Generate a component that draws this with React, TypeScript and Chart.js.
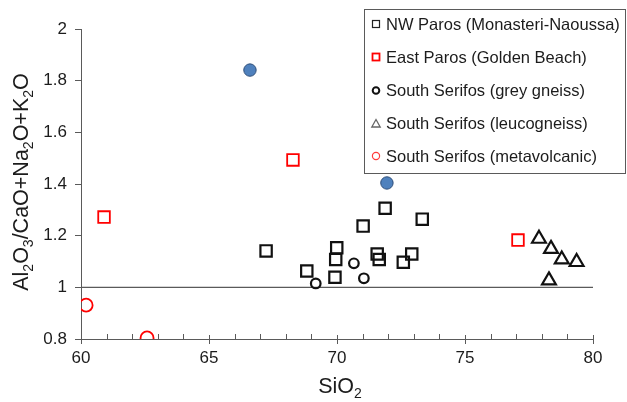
import React, { useEffect, useRef } from 'react';
import { Chart, registerables } from 'chart.js';

Chart.register(...registerables);

// ---- Data ----
const seriesNames = [
  'NW Paros (Monasteri-Naoussa)',
  'East Paros (Golden Beach)',
  'South Serifos (grey gneiss)',
  'South Serifos (leucogneiss)',
  'South Serifos (metavolcanic)',
];
const nwParosSiO2 = [67.23, 68.82, 69.99, 69.95, 69.92, 71.02, 71.88, 71.57, 71.65, 72.59, 72.92, 73.33];
const nwParosRatio = [1.141, 1.063, 1.153, 1.108, 1.039, 1.237, 1.306, 1.129, 1.108, 1.097, 1.129, 1.264];
const eastParosSiO2 = [60.9, 68.28, 77.07];
const eastParosRatio = [1.272, 1.493, 1.183];
const greyGneissSiO2 = [69.17, 70.66, 71.05];
const greyGneissRatio = [1.015, 1.093, 1.035];
const leucogneissSiO2 = [77.89, 78.36, 78.78, 79.36, 78.28];
const leucogneissRatio = [1.188, 1.149, 1.108, 1.098, 1.027];
const metavolcanicSiO2 = [60.2, 62.58];
const metavolcanicRatio = [0.931, 0.804];
const otherSiO2 = [66.6, 71.95];
const otherRatio = [1.841, 1.404];
const referenceLineSiO2 = [60, 80];
const referenceLineRatio = [1, 1];
const xMin = 60;
const xMax = 80;
const xMajorStep = 5;
const xMinorStep = 1;
const yMin = 0.8;
const yMax = 2;
const yStep = 0.2;

const FONT = '"Liberation Sans", Arial, Helvetica, sans-serif';
const AXIS_COLOR = '#5a5a5a';
const TEXT_COLOR = '#1c1c1c';

const pts = (xs: number[], ys: number[]) => xs.map((x, i) => ({ x, y: ys[i] }));

type Seg = { t: string; sub?: boolean };

function drawRich(ctx: CanvasRenderingContext2D, segs: Seg[], cx: number, baseY: number, size: number, subSize: number) {
  const widths = segs.map((s) => {
    ctx.font = `${s.sub ? subSize : size}px ${FONT}`;
    return ctx.measureText(s.t).width;
  });
  const total = widths.reduce((a, b) => a + b, 0);
  let x = cx - total / 2;
  ctx.textBaseline = 'alphabetic';
  ctx.textAlign = 'left';
  segs.forEach((s, i) => {
    ctx.font = `${s.sub ? subSize : size}px ${FONT}`;
    ctx.fillText(s.t, x, baseY + (s.sub ? size * 0.24 : 0));
    x += widths[i];
  });
}

const decorPlugin = {
  id: 'decor',
  afterDraw(chart: any) {
    const ctx: CanvasRenderingContext2D = chart.ctx;
    const xs = chart.scales.x;
    const ys = chart.scales.y;
    const area = chart.chartArea;
    ctx.save();
    // x tick marks: majors cross the axis, minors point inward
    ctx.strokeStyle = AXIS_COLOR;
    ctx.lineWidth = 1;
    for (let v = xMin; v <= xMax + 1e-9; v += xMinorStep) {
      const px = Math.round(xs.getPixelForValue(v)) + 0.5;
      const by = area.bottom;
      ctx.beginPath();
      if (Math.abs(v % xMajorStep) < 1e-9) {
        ctx.moveTo(px, by - 4);
        ctx.lineTo(px, by + 5);
      } else {
        ctx.moveTo(px, by - 5);
        ctx.lineTo(px, by);
      }
      ctx.stroke();
    }

    // axis titles
    ctx.fillStyle = TEXT_COLOR;
    drawRich(ctx, [{ t: 'SiO' }, { t: '2', sub: true }], (area.left + area.right) / 2 + 3, 393, 21.5, 14);
    ctx.save();
    ctx.translate(28, (area.top + area.bottom) / 2 - 2);
    ctx.rotate(-Math.PI / 2);
    drawRich(
      ctx,
      [
        { t: 'Al' }, { t: '2', sub: true }, { t: 'O' }, { t: '3', sub: true },
        { t: '/CaO+Na' }, { t: '2', sub: true }, { t: 'O+K' }, { t: '2', sub: true }, { t: 'O' },
      ],
      0, 0, 21.5, 14,
    );
    ctx.restore();

    // legend box
    const lx = 364.5, ly = 9.5, lw = 261, lh = 164;
    ctx.fillStyle = '#ffffff';
    ctx.fillRect(lx, ly, lw, lh);
    ctx.strokeStyle = AXIS_COLOR;
    ctx.lineWidth = 1;
    ctx.strokeRect(lx, ly, lw, lh);
    const rowY = [24, 57, 90.5, 123.5, 156];
    const mx = 376;
    rowY.forEach((yy, i) => {
      ctx.save();
      ctx.beginPath();
      if (i === 0) {
        ctx.strokeStyle = '#222';
        ctx.lineWidth = 1.2;
        ctx.strokeRect(mx - 3.5, yy - 3.5, 7, 7);
      } else if (i === 1) {
        ctx.strokeStyle = '#ff0000';
        ctx.lineWidth = 1.8;
        ctx.strokeRect(mx - 3.5, yy - 3.5, 7, 7);
      } else if (i === 2) {
        ctx.strokeStyle = '#111';
        ctx.lineWidth = 2;
        ctx.arc(mx, yy, 3.3, 0, Math.PI * 2);
        ctx.stroke();
      } else if (i === 3) {
        ctx.strokeStyle = '#666';
        ctx.lineWidth = 1.3;
        ctx.moveTo(mx, yy - 4);
        ctx.lineTo(mx + 4.2, yy + 3.5);
        ctx.lineTo(mx - 4.2, yy + 3.5);
        ctx.closePath();
        ctx.stroke();
      } else {
        ctx.strokeStyle = '#ff3b3b';
        ctx.lineWidth = 1.2;
        ctx.arc(mx, yy, 3.6, 0, Math.PI * 2);
        ctx.stroke();
      }
      ctx.restore();
      ctx.fillStyle = TEXT_COLOR;
      ctx.font = `16.5px ${FONT}`;
      ctx.textAlign = 'left';
      ctx.textBaseline = 'middle';
      ctx.fillText(seriesNames[i], 386, yy + 1);
    });
    ctx.restore();
  },
};

export default function App() {
  const canvasRef = useRef<HTMLCanvasElement | null>(null);

  useEffect(() => {
    if (!canvasRef.current) return;
    const chart = new Chart(canvasRef.current, {
      type: 'scatter',
      data: {
        datasets: [
          {
            label: seriesNames[0],
            data: pts(nwParosSiO2, nwParosRatio),
            pointStyle: 'rect',
            pointRadius: 8,
            pointBorderColor: '#111111',
            pointBorderWidth: 2.2,
            pointBackgroundColor: 'rgba(0,0,0,0)',
          },
          {
            label: seriesNames[1],
            data: pts(eastParosSiO2, eastParosRatio),
            pointStyle: 'rect',
            pointRadius: 8.2,
            pointBorderColor: '#ff0000',
            pointBorderWidth: 1.8,
            pointBackgroundColor: 'rgba(0,0,0,0)',
          },
          {
            label: seriesNames[2],
            data: pts(greyGneissSiO2, greyGneissRatio),
            pointStyle: 'circle',
            pointRadius: 4.8,
            pointBorderColor: '#111111',
            pointBorderWidth: 2.2,
            pointBackgroundColor: 'rgba(0,0,0,0)',
          },
          {
            label: seriesNames[3],
            data: pts(leucogneissSiO2, leucogneissRatio),
            pointStyle: 'triangle',
            pointRadius: 8,
            pointBorderColor: '#111111',
            pointBorderWidth: 2.2,
            pointBackgroundColor: 'rgba(0,0,0,0)',
          },
          {
            label: seriesNames[4],
            data: pts(metavolcanicSiO2, metavolcanicRatio),
            pointStyle: 'circle',
            pointRadius: 6.5,
            pointBorderColor: '#ff0000',
            pointBorderWidth: 1.8,
            pointBackgroundColor: 'rgba(0,0,0,0)',
          },
          {
            label: 'other',
            data: pts(otherSiO2, otherRatio),
            pointStyle: 'circle',
            pointRadius: 6.2,
            pointBorderColor: '#2f4f7a',
            pointBorderWidth: 1,
            pointBackgroundColor: '#4f81bd',
          },
          {
            label: 'reference',
            data: pts(referenceLineSiO2, referenceLineRatio),
            showLine: true,
            borderColor: AXIS_COLOR,
            borderWidth: 1.3,
            pointRadius: 0,
          } as any,
        ],
      },
      options: {
        animation: false,
        responsive: true,
        maintainAspectRatio: false,
        events: [],
        layout: { padding: { left: 0, top: 29, right: 34, bottom: 0 } },
        plugins: {
          legend: { display: false },
          tooltip: { enabled: false },
          title: { display: false },
        },
        scales: {
          x: {
            type: 'linear',
            min: xMin,
            max: xMax,
            afterFit: (s: any) => { s.height = 63; },
            grid: { display: false, drawTicks: false },
            border: { display: true, color: AXIS_COLOR, width: 1 },
            ticks: {
              stepSize: xMinorStep,
              autoSkip: false,
              maxRotation: 0,
              padding: 9,
              color: TEXT_COLOR,
              font: { family: FONT, size: 17 },
              callback: (v: any) => (Math.abs(Number(v) % xMajorStep) < 1e-9 ? String(v) : ''),
            },
          },
          y: {
            type: 'linear',
            min: yMin,
            max: yMax,
            afterFit: (s: any) => { s.width = 81; },
            grid: {
              display: true,
              drawOnChartArea: false,
              drawTicks: true,
              tickLength: 6,
              tickColor: AXIS_COLOR,
              color: AXIS_COLOR,
            },
            border: { display: true, color: AXIS_COLOR, width: 1 },
            ticks: {
              stepSize: yStep,
              padding: 8,
              color: TEXT_COLOR,
              font: { family: FONT, size: 17 },
              callback: (v: any) => String(Number(Number(v).toFixed(1))),
            },
          },
        },
      },
      plugins: [decorPlugin],
    });
    return () => chart.destroy();
  }, []);

  return (
    <div style={{ position: 'fixed', left: 0, top: 0, width: 627, height: 402, background: '#fff' }}>
      <canvas ref={canvasRef} />
    </div>
  );
}
